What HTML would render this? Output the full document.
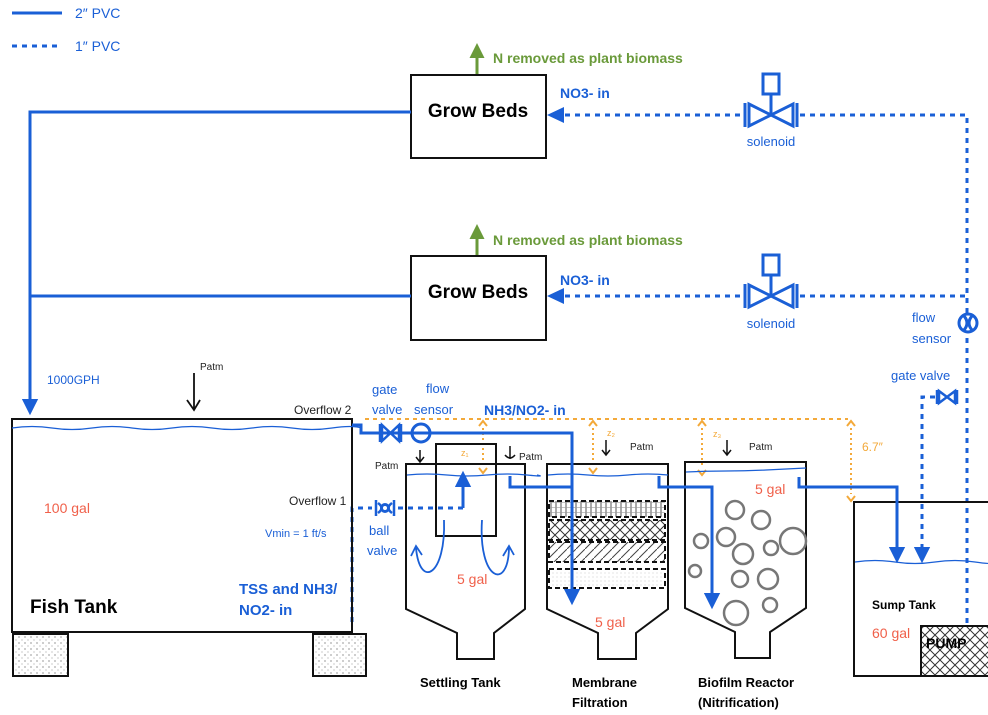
<!DOCTYPE html>
<html><head><meta charset="utf-8"><style>
html,body{margin:0;padding:0;background:#fff;}
svg{display:block;font-family:"Liberation Sans",sans-serif;}
</style></head><body>
<svg width="988" height="715" viewBox="0 0 988 715" xmlns="http://www.w3.org/2000/svg">
<defs>
<marker id="ab" viewBox="0 0 10 10" refX="8" refY="5" markerWidth="5.5" markerHeight="5.5" orient="auto"><path d="M0,0L10,5L0,10z" fill="#1a5fd6"/></marker>
<marker id="ag" viewBox="0 0 10 10" refX="8" refY="5" markerWidth="5" markerHeight="5" orient="auto"><path d="M0,0L10,5L0,10z" fill="#6a9a3a"/></marker>
<pattern id="dots" width="6" height="6" patternUnits="userSpaceOnUse"><rect width="6" height="6" fill="#fff"/><circle cx="1" cy="1" r="0.6" fill="#555"/><circle cx="4" cy="4" r="0.5" fill="#777"/></pattern>
<pattern id="xh" width="10" height="10" patternUnits="userSpaceOnUse"><path d="M0,0L10,10M10,0L0,10" stroke="#333" stroke-width="1"/></pattern>
<pattern id="vl" width="5" height="5" patternUnits="userSpaceOnUse"><path d="M1,0V5" stroke="#555" stroke-width="1"/><path d="M0,2.5H5" stroke="#999" stroke-width="0.6"/></pattern>
<pattern id="dg" width="9" height="9" patternUnits="userSpaceOnUse"><path d="M0,9L9,0" stroke="#444" stroke-width="1"/></pattern>
<pattern id="ld" width="4" height="4" patternUnits="userSpaceOnUse"><rect width="4" height="4" fill="#fff"/><circle cx="1" cy="1" r="0.5" fill="#bbb"/></pattern>
</defs>

<!-- legend -->
<line x1="12" y1="13" x2="62" y2="13" stroke="#1a5fd6" stroke-width="3"/>
<text x="75" y="18" font-size="14" fill="#1a5fd6">2″ PVC</text>
<line x1="12" y1="46" x2="62" y2="46" stroke="#1a5fd6" stroke-width="3" stroke-dasharray="5,5"/>
<text x="75" y="51" font-size="14" fill="#1a5fd6">1″ PVC</text>

<!-- grow beds -->
<g stroke="#111" stroke-width="2" fill="none">
<rect x="411" y="75" width="135" height="83"/>
<rect x="411" y="256" width="135" height="84"/>
</g>
<text x="478" y="117" font-size="19" font-weight="bold" text-anchor="middle">Grow Beds</text>
<text x="478" y="298" font-size="19" font-weight="bold" text-anchor="middle">Grow Beds</text>
<line x1="477" y1="74" x2="477" y2="46" stroke="#6a9a3a" stroke-width="3" marker-end="url(#ag)"/>
<line x1="477" y1="255" x2="477" y2="227" stroke="#6a9a3a" stroke-width="3" marker-end="url(#ag)"/>
<text x="493" y="63" font-size="14" font-weight="bold" fill="#6a9a3a">N removed as plant biomass</text>
<text x="493" y="245" font-size="14" font-weight="bold" fill="#6a9a3a">N removed as plant biomass</text>
<text x="560" y="98" font-size="14" font-weight="bold" fill="#1a5fd6">NO3- in</text>
<text x="560" y="285" font-size="14" font-weight="bold" fill="#1a5fd6">NO3- in</text>

<!-- 2" return pipes -->
<g stroke="#1a5fd6" stroke-width="3" fill="none">
<polyline points="411,112 30,112 30,412" marker-end="url(#ab)"/>
<line x1="411" y1="296" x2="30" y2="296"/>
</g>
<text x="47" y="384" font-size="12" fill="#1a5fd6">1000GPH</text>

<!-- dotted supply -->
<g stroke="#1a5fd6" stroke-width="3" fill="none" stroke-dasharray="5,5">
<line x1="740" y1="115" x2="562" y2="115"/>
<line x1="740" y1="296" x2="562" y2="296"/>
<polyline points="800,115 967,115 967,626"/>
<line x1="800" y1="296" x2="967" y2="296"/>
<polyline points="935,397 922,397 922,560" marker-end="url(#ab)"/>
<polyline points="352,622 352,508 372,508"/>
<polyline points="398,508 463,508"/>
</g>
<path d="M547,115l17,-8v16z" fill="#1a5fd6"/>
<path d="M547,296l17,-8v16z" fill="#1a5fd6"/>

<!-- solenoids -->
<g stroke="#1a5fd6" stroke-width="3" fill="none">
<g transform="translate(771,115)">
<rect x="-8" y="-41" width="16" height="20"/><line x1="0" y1="-21" x2="0" y2="0"/>
<path d="M-26,-12V12M26,-12V12M-22,-11L22,11V-11L-22,11Z"/>
</g>
<g transform="translate(771,296)">
<rect x="-8" y="-41" width="16" height="20"/><line x1="0" y1="-21" x2="0" y2="0"/>
<path d="M-26,-12V12M26,-12V12M-22,-11L22,11V-11L-22,11Z"/>
</g>
<circle cx="968" cy="323" r="9" fill="#fff"/>
<path d="M964,316q6,7 0,14M972,316q-6,7 0,14"/>
<path d="M937,390V404M957,390V404M939,391L955,403V391L939,403Z" stroke-width="2.5"/>
</g>
<text x="771" y="146" font-size="13" fill="#1a5fd6" text-anchor="middle">solenoid</text>
<text x="771" y="328" font-size="13" fill="#1a5fd6" text-anchor="middle">solenoid</text>
<text x="912" y="322" font-size="13" fill="#1a5fd6">flow</text>
<text x="912" y="343" font-size="13" fill="#1a5fd6">sensor</text>
<text x="891" y="380" font-size="13" fill="#1a5fd6">gate valve</text>

<!-- fish tank -->
<rect x="12" y="419" width="340" height="213" fill="none" stroke="#111" stroke-width="2"/>
<rect x="13" y="634" width="55" height="42" fill="url(#dots)" stroke="#111" stroke-width="2"/>
<rect x="313" y="634" width="53" height="42" fill="url(#dots)" stroke="#111" stroke-width="2"/>
<path d="M12,428 q20,-3 40,0 t40,0 t40,0 t40,0 t40,0 t40,0 t40,0 t40,0 t30,0" fill="none" stroke="#1a5fd6" stroke-width="1.2"/>
<text x="294" y="414" font-size="12" fill="#222">Overflow 2</text>
<text x="289" y="505" font-size="12" fill="#222">Overflow 1</text>
<text x="44" y="513" font-size="14" fill="#f0604a">100 gal</text>
<text x="265" y="537" font-size="11" fill="#1a5fd6">Vmin = 1 ft/s</text>
<text x="239" y="594" font-size="15" font-weight="bold" fill="#1a5fd6">TSS and NH3/</text>
<text x="239" y="615" font-size="15" font-weight="bold" fill="#1a5fd6">NO2- in</text>
<text x="30" y="613" font-size="19" font-weight="bold">Fish Tank</text>
<text x="200" y="370" font-size="10" fill="#222">Patm</text>
<path d="M194,373 V410 M187,400 L194,410 L200,400" fill="none" stroke="#111" stroke-width="1.8"/>

<!-- orange levels -->
<g stroke="#f3a93a" stroke-width="2" fill="none">
<line x1="365" y1="419" x2="848" y2="419" stroke-dasharray="4,4"/>
<g stroke-dasharray="2,3">
<line x1="483" y1="428" x2="483" y2="466"/>
<line x1="593" y1="428" x2="593" y2="466"/>
<line x1="702" y1="428" x2="702" y2="468"/>
<line x1="851" y1="428" x2="851" y2="494"/>
</g>
<path d="M479,426l4,-5l4,5M479,468l4,5l4,-5M589,426l4,-5l4,5M589,468l4,5l4,-5M698,426l4,-5l4,5M698,470l4,5l4,-5M847,426l4,-5l4,5M847,496l4,5l4,-5"/>
</g>
<text x="461" y="456" font-size="9" fill="#f3a93a">z₁</text>
<text x="607" y="436" font-size="9" fill="#f3a93a">z₂</text>
<text x="713" y="437" font-size="9" fill="#f3a93a">z₃</text>
<text x="862" y="451" font-size="12" fill="#f3a93a">6.7″</text>

<!-- tanks -->
<g stroke="#111" stroke-width="2" fill="none">
<path d="M406,464V609L457,633V659H494V633L525,609V464Z"/>
<rect x="436" y="444" width="60" height="92"/>
<path d="M547,464V609L598,633V659H636V633L668,609V464Z"/>
<path d="M685,462V608L735,632V658H770V632L806,608V462Z"/>
<rect x="854" y="502" width="140" height="174"/>
</g>
<!-- membrane layers -->
<g stroke="#111" stroke-width="2" stroke-dasharray="5,3">
<rect x="549" y="501" width="116" height="16" fill="url(#vl)"/>
<rect x="549" y="520" width="116" height="20" fill="url(#xh)"/>
<rect x="549" y="542" width="116" height="20" fill="url(#dg)"/>
<rect x="549" y="569" width="116" height="19" fill="url(#ld)"/>
</g>
<!-- water lines -->
<g stroke="#1a5fd6" stroke-width="1.2" fill="none">
<path d="M407,475 q20,-2 40,0 t40,0 t40,0 t10,0"/>
<path d="M548,475 q20,-2 40,0 t40,0 t40,0"/>
<path d="M686,472 q20,-1 40,-1 t40,-1 t40,-2"/>
<path d="M855,562 q20,-3 40,0 t40,0 t40,0 t20,0"/>
</g>
<!-- bubbles -->
<g stroke="#777" stroke-width="2.5" fill="none">
<circle cx="735" cy="510" r="9"/><circle cx="761" cy="520" r="9"/><circle cx="701" cy="541" r="7"/>
<circle cx="726" cy="537" r="9"/><circle cx="743" cy="554" r="10"/><circle cx="771" cy="548" r="7"/>
<circle cx="793" cy="541" r="13"/><circle cx="695" cy="571" r="6"/><circle cx="740" cy="579" r="8"/>
<circle cx="768" cy="579" r="10"/><circle cx="736" cy="613" r="12"/><circle cx="770" cy="605" r="7"/>
</g>
<!-- pump -->
<rect x="921" y="626" width="70" height="50" fill="url(#xh)" stroke="#111" stroke-width="2"/>
<text x="926" y="648" font-size="14" font-weight="bold">PUMP</text>
<text x="872" y="609" font-size="12" font-weight="bold">Sump Tank</text>
<text x="872" y="638" font-size="14" fill="#f0604a">60 gal</text>

<!-- blue 2" pipes -->
<g stroke="#1a5fd6" stroke-width="3" fill="none">
<polyline points="352,425 361,425 361,433 572,433 572,602" marker-end="url(#ab)"/>
<polyline points="510,476 510,487 572,487"/>
<polyline points="659,476 659,487 712,487 712,606" marker-end="url(#ab)"/>
<polyline points="799,477 799,487 897,487 897,560" marker-end="url(#ab)"/>
<line x1="463" y1="508" x2="463" y2="474" marker-end="url(#ab)"/>
<path d="M380,424V442M401,424V442M382,425L399,441V425L382,441Z" stroke-width="2.5"/>
<circle cx="421" cy="433" r="9" fill="#fff"/><line x1="412" y1="433" x2="430" y2="433"/>
<path d="M376,500V516M394,500V516M378,503Q385,508 378,513M392,503Q385,508 392,513" stroke-width="2.5"/>
<circle cx="385" cy="508" r="3.5"/>
<path d="M444,520 C446,575 420,590 416,548 M411,556 l5,-10 l6,9" stroke-width="1.8"/>
<path d="M482,520 C478,580 508,592 509,548 M503,556 l6,-10 l5,9" stroke-width="1.8"/>
</g>
<text x="372" y="394" font-size="13" fill="#1a5fd6">gate</text>
<text x="372" y="414" font-size="13" fill="#1a5fd6">valve</text>
<text x="426" y="393" font-size="13" fill="#1a5fd6">flow</text>
<text x="414" y="414" font-size="13" fill="#1a5fd6">sensor</text>
<text x="369" y="535" font-size="13" fill="#1a5fd6">ball</text>
<text x="367" y="555" font-size="13" fill="#1a5fd6">valve</text>
<text x="484" y="415" font-size="14" font-weight="bold" fill="#1a5fd6">NH3/NO2- in</text>

<!-- Patm arrows -->
<g stroke="#111" stroke-width="1.5" fill="none">
<path d="M420,450V462M416,457l4,5l4,-5"/>
<path d="M510,446V459M505,455q5,6 10,0"/>
<path d="M606,440V455M602,450l4,5l4,-5"/>
<path d="M727,440V455M723,450l4,5l4,-5"/>
</g>
<text x="375" y="469" font-size="10" fill="#222">Patm</text>
<text x="519" y="460" font-size="10" fill="#222">Patm</text>
<text x="630" y="450" font-size="10" fill="#222">Patm</text>
<text x="749" y="450" font-size="10" fill="#222">Patm</text>

<text x="457" y="584" font-size="14" fill="#f0604a">5 gal</text>
<text x="595" y="627" font-size="14" fill="#f0604a">5 gal</text>
<text x="755" y="494" font-size="14" fill="#f0604a">5 gal</text>

<text x="420" y="687" font-size="13" font-weight="bold">Settling Tank</text>
<text x="572" y="687" font-size="13" font-weight="bold">Membrane</text>
<text x="572" y="707" font-size="13" font-weight="bold">Filtration</text>
<text x="698" y="687" font-size="13" font-weight="bold">Biofilm Reactor</text>
<text x="698" y="707" font-size="13" font-weight="bold">(Nitrification)</text>
</svg>
</body></html>
